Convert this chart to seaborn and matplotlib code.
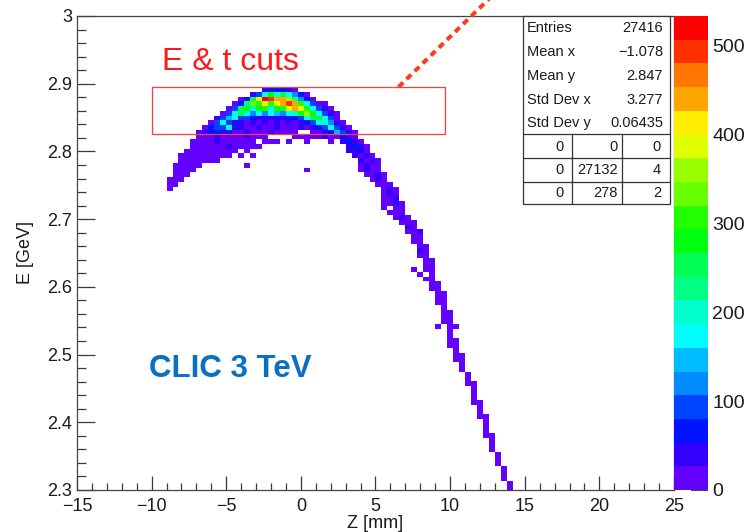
import colorsys

import numpy as np
import pandas as pd
import matplotlib
matplotlib.use("Agg")
import matplotlib.pyplot as plt
from matplotlib.colors import ListedColormap
from matplotlib.lines import Line2D
from matplotlib.patches import Rectangle
from matplotlib.ticker import FuncFormatter, MultipleLocator
import seaborn as sns

# ---------------------------------------------------------------- binning
Z_RANGE = (-15.0, 25.0)      # mm
E_RANGE = (2.3, 3.0)         # GeV
N_Z_BINS = 100
N_E_BINS = 100
Z_MAX = 533.0                # top of the colour scale (entries per cell)
N_CONTOURS = 20
LEVEL_CODES = "0123456789abcdefghij"   # contour level 0..19 of a filled cell

# Filled cells, stored as horizontal runs: energy bin, first Z bin, and one
# contour-level code per consecutive Z bin ("." = empty cell).
seg_e_bin = [
    84, 83, 82, 81, 80, 79, 78, 77, 76,
    75, 75, 74, 74,
    73, 73, 73, 73, 73, 73,
    72, 72, 71, 71, 71, 70, 70, 70, 70,
    69, 69, 68, 68, 68, 67, 67, 67, 66, 66, 65, 65, 64, 64, 63, 63,
    62, 61, 60, 59, 59, 58, 57, 56, 55, 54, 53, 52, 51, 50, 49, 48, 47,
    46, 46, 45, 45, 44, 43, 42, 41, 40, 39, 38, 37, 36, 35, 34, 34,
    33, 32, 31, 30, 29, 28, 27, 26, 25, 24, 23, 22, 21, 20, 19, 18, 17,
    16, 15, 14, 13, 12, 11, 10, 9, 8, 7, 6, 5, 4, 3, 2, 1, 0,
]
seg_z_bin = [
    31, 29, 27, 26, 25, 24, 23, 22, 21,
    20, 39, 20, 36,
    19, 31, 35, 38, 42, 44,
    19, 45, 18, 28, 45, 17, 27, 29, 46,
    17, 47, 16, 28, 47, 16, 38, 47, 16, 48, 15, 49, 15, 50, 15, 51,
    51, 51, 51, 51, 53, 52, 53, 54, 55, 55, 56, 56, 57, 57, 57, 58, 58,
    56, 58, 57, 59, 58, 59, 59, 60, 60, 60, 61, 61, 61, 61, 60, 62,
    62, 62, 62, 62, 63, 63, 63, 64, 64, 65, 65, 65, 66, 66, 66, 66, 67,
    67, 67, 68, 68, 68, 68, 69, 69, 69, 70, 70, 70, 71, 71, 71, 72, 72,
]
seg_levels = [
    "122210",
    "136a796420",
    "029ejiggd8420",
    "028cbfbegigb6300",
    "039a7ab7abegfb6310",
    "0369646465467ada6310",
    "13563321111122369a630",
    "03631101010101012367410",
    "0233621001001000101236310",
    "01221200100010000", "00125310",
    "000100001000", "00000100210",
    "00001000000", "000", "0", "0", "0", "1210",
    "000000100000", "1210",
    "000000000", "0", "1120",
    "000000000", "0", "0", "1010",
    "0000000", "1010",
    "00000", "0", "0100",
    "0000", "0", "0100",
    "000", "0010",
    "000", "010",
    "00", "000",
    "0", "010",
    "010", "001", "0010", "0", "00", "000", "010", "000", "10", "001",
    "00", "00", "00", "10", "00", "00", "00",
    "0", "00", "0", "0", "00", "00", "00", "00", "00", "00", "0", "00",
    "00", "00", "0", "00",
    "0", "0", "00", "00", "0", "00", "00", "0", "0", "0", "0", "00", "0",
    "0", "0", "00", "0",
    "0", "00", "0", "0", "0", "00", "0", "0", "0", "0", "0", "0", "0",
    "0", "0", "0", "0",
]

# statistics box
stat_names = ["Entries", "Mean x", "Mean y", "Std Dev x", "Std Dev y"]
stat_values = ["27416", "\u22121.078", "2.847", "3.277", "0.06435"]
overflow_table = [
    ["0", "0", "0"],
    ["0", "27132", "4"],
    ["0", "278", "2"],
]

colorbar_ticks = [0, 100, 200, 300, 400, 500]
cut_z = (-10.0, 9.65)      # mm, selection window
cut_e = (2.825, 2.895)     # GeV


def pretty_palette(n_contours):
    """Violet-to-red spectrum sampled into n_contours flat colour bands."""
    base = []
    for i in range(49):
        hue = 280.0 - (i + 1) * 280.0 / 50.0
        base.append(colorsys.hls_to_rgb(hue / 360.0, 0.5, 1.0))
    base.append((1.0, 0.0, 0.0))
    picks = [int((k + 0.99) * len(base) / n_contours) for k in range(n_contours)]
    return ListedColormap([base[p] for p in picks])


# ------------------------------------------------------- cell table
dz = (Z_RANGE[1] - Z_RANGE[0]) / N_Z_BINS
de = (E_RANGE[1] - E_RANGE[0]) / N_E_BINS
records = []
for e_bin, z_bin, codes in zip(seg_e_bin, seg_z_bin, seg_levels):
    for k, code in enumerate(codes):
        if code == ".":
            continue
        level = LEVEL_CODES.index(code)
        records.append((
            Z_RANGE[0] + (z_bin + k + 0.5) * dz,
            E_RANGE[0] + (e_bin + 0.5) * de,
            (level + 0.5) * Z_MAX / N_CONTOURS,
        ))
cells = pd.DataFrame(records, columns=["z", "E", "entries"])

# ------------------------------------------------------------- figure
sns.set_theme(style="ticks")
plt.rcParams["font.family"] = ["Liberation Sans", "DejaVu Sans"]
plt.rcParams["axes.unicode_minus"] = True

W, H = 747, 532
fig = plt.figure(figsize=(W / 100, H / 100), dpi=100, facecolor="white")


def fx(px):
    return px / W


def fy(py):
    return 1.0 - py / H


ax = fig.add_axes([fx(77), fy(490), fx(674) - fx(77), fy(16) - fy(490)])
cax = fig.add_axes([fx(674), fy(490), fx(708) - fx(674), fy(16) - fy(490)])

sns.histplot(
    data=cells, x="z", y="E", weights="entries",
    bins=(N_Z_BINS, N_E_BINS), binrange=(Z_RANGE, E_RANGE),
    cmap=pretty_palette(N_CONTOURS), vmax=Z_MAX,
    cbar=True, cbar_ax=cax, cbar_kws={"ticks": colorbar_ticks},
    ax=ax,
)

ax.set_xlim(*Z_RANGE)
ax.set_ylim(*E_RANGE)
ax.set_xlabel("")
ax.set_ylabel("")
ax.set_facecolor("white")

ax.xaxis.set_major_locator(MultipleLocator(5))
ax.xaxis.set_minor_locator(MultipleLocator(1))
ax.yaxis.set_major_locator(MultipleLocator(0.1))
ax.yaxis.set_minor_locator(MultipleLocator(0.02))
ax.yaxis.set_major_formatter(FuncFormatter(lambda v, _: f"{round(v, 2):g}"))
ax.xaxis.set_major_formatter(
    FuncFormatter(lambda v, _: f"{v:g}".replace("-", "\u2212")))

tick_col = "#3a3a3a"
ax.tick_params(which="both", direction="in", top=False, right=False,
               color=tick_col, width=0.9, labelcolor="#1a1a1a")
ax.tick_params(axis="x", which="major", length=10, pad=6, labelsize=13)
ax.tick_params(axis="x", which="minor", length=5)
ax.tick_params(axis="y", which="major", length=13, pad=3.5, labelsize=13)
ax.tick_params(axis="y", which="minor", length=6.5)
for sp in ax.spines.values():
    sp.set_visible(True)
    sp.set_color("#444444")
    sp.set_linewidth(0.9)

fig.text(fx(375), fy(524), "Z [mm]", ha="center", va="center",
         fontsize=13, color="#1a1a1a")
fig.text(fx(25), fy(253), "E [GeV]", ha="center", va="center",
         rotation=90, fontsize=13, color="#1a1a1a")

# colour scale
cbar = cax.collections[0].colorbar if cax.collections and cax.collections[0].colorbar else None
for spine in cax.spines.values():
    spine.set_visible(False)
cax.tick_params(direction="in", length=12.5, width=1.2, color="#222222",
                labelsize=14, pad=3, labelcolor="#1a1a1a")
cax.minorticks_off()

# selection window and labels
ax.add_patch(Rectangle((cut_z[0], cut_e[0]), cut_z[1] - cut_z[0],
                       cut_e[1] - cut_e[0], fill=False,
                       edgecolor="#ff3b3b", linewidth=0.9, zorder=4))
ax.text(-9.33, 2.9203, "E & t cuts", color="#ff1a1a", fontsize=23,
        ha="left", va="baseline", zorder=5)
ax.text(-10.16, 2.4673, "CLIC 3 TeV", color="#0a70c2", fontsize=22.5,
        fontweight="bold", ha="left", va="baseline", zorder=5)

fig.add_artist(Line2D([fx(398.5), fx(494)], [fy(87), fy(-6)],
                      transform=fig.transFigure, color="#ff3b1f",
                      linewidth=2.9, linestyle=(0, (1.6, 1.2)),
                      solid_capstyle="butt", zorder=6))

# statistics box
box_l, box_r, box_t, box_mid, box_b = 522.5, 670.0, 15.5, 134.0, 204.0
edge = "#333333"
fig.add_artist(Rectangle((fx(box_l), fy(box_b)), fx(box_r) - fx(box_l),
                         fy(box_t) - fy(box_b), transform=fig.transFigure,
                         facecolor="white", edgecolor=edge, linewidth=0.9,
                         zorder=7))
for yy in (box_mid, 158.5, 181.5):
    fig.add_artist(Line2D([fx(box_l), fx(box_r)], [fy(yy), fy(yy)],
                          transform=fig.transFigure, color=edge,
                          linewidth=0.9, zorder=8))
for xx in (572.0, 622.0):
    fig.add_artist(Line2D([fx(xx), fx(xx)], [fy(box_mid), fy(box_b)],
                          transform=fig.transFigure, color=edge,
                          linewidth=0.9, zorder=8))

stat_rows_y = [28.5, 52.5, 76.0, 99.5, 123.0]
for name, value, yy in zip(stat_names, stat_values, stat_rows_y):
    fig.text(fx(527), fy(yy), name, ha="left", va="center", fontsize=10.5,
             color="#1a1a1a", zorder=9)
    fig.text(fx(663), fy(yy), value, ha="right", va="center", fontsize=10.5,
             color="#1a1a1a", zorder=9)

table_rows_y = [147.0, 170.0, 193.0]
table_cols_x = [564.0, 618.0, 661.0]
for row, yy in zip(overflow_table, table_rows_y):
    for val, xx in zip(row, table_cols_x):
        fig.text(fx(xx), fy(yy), val, ha="right", va="center", fontsize=10.5,
                 color="#1a1a1a", zorder=9)

fig.savefig("out.png", dpi=100, facecolor="white")
